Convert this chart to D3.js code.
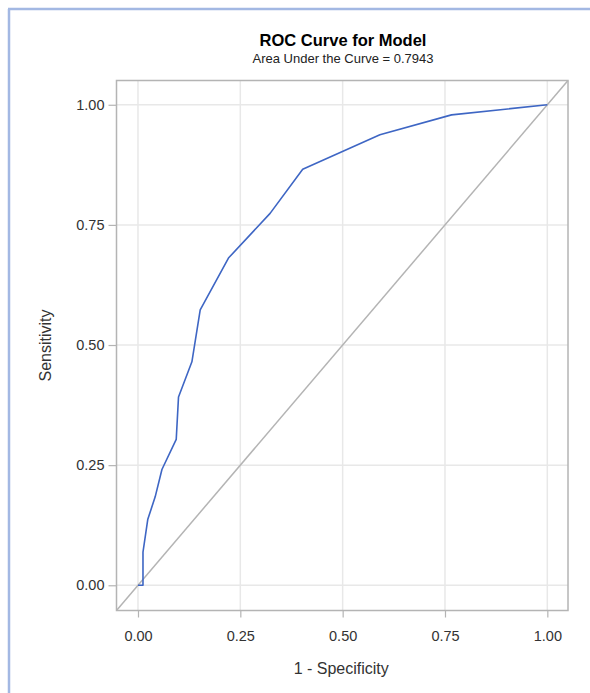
<!DOCTYPE html>
<html>
<head>
<meta charset="utf-8">
<script src="https://cdn.jsdelivr.net/npm/d3@7"></script>
<style>
  html, body { margin: 0; padding: 0; background: #ffffff; }
  svg { display: block; }
  text { font-family: "Liberation Sans", Arial, sans-serif; fill: #333333; }
</style>
</head>
<body>
<svg id="chart" width="590" height="693"></svg>
<script>
// ---- data ----
const fpr = [0, 0.0122, 0.0122, 0.024, 0.042, 0.0585, 0.0934, 0.099, 0.1317, 0.152, 0.221, 0.3227, 0.4024, 0.591, 0.766, 1.0];
const tpr = [0, 0, 0.069, 0.1375, 0.184, 0.241, 0.3035, 0.392, 0.465, 0.573, 0.681, 0.774, 0.866, 0.9375, 0.979, 1.0];
const tickValues = [0, 0.25, 0.5, 0.75, 1.0];
const titleText = "ROC Curve for Model";
const subtitleText = "Area Under the Curve = 0.7943";
const xTitle = "1 - Specificity";
const yTitle = "Sensitivity";
const domainMin = -0.0525, domainMax = 1.0505;

(function () {
const svg = d3.select("#chart");

// outer frame (page border)
svg.append("line").attr("x1", 9).attr("y1", 9).attr("x2", 9).attr("y2", 693)
  .attr("stroke", "#a3b8e3").attr("stroke-width", 2.5);
svg.append("line").attr("x1", 8).attr("y1", 9).attr("x2", 590).attr("y2", 9)
  .attr("stroke", "#a3b8e3").attr("stroke-width", 2.5);

const pL = 116.5, pR = 568, pT = 80.5, pB = 610.5;
const x = d3.scaleLinear().domain([domainMin, domainMax]).range([pL, pR]);
const y = d3.scaleLinear().domain([domainMin, domainMax]).range([pB, pT]);

// grid
const grid = svg.append("g");
tickValues.forEach(v => {
  grid.append("line").attr("x1", x(v)).attr("x2", x(v)).attr("y1", pT).attr("y2", pB)
    .attr("stroke", "#e8e8e8").attr("stroke-width", 1.5);
  grid.append("line").attr("y1", y(v)).attr("y2", y(v)).attr("x1", pL).attr("x2", pR)
    .attr("stroke", "#e8e8e8").attr("stroke-width", 1.5);
});

// diagonal reference line
svg.append("line")
  .attr("x1", x(domainMin)).attr("y1", y(domainMin))
  .attr("x2", x(domainMax)).attr("y2", y(domainMax))
  .attr("stroke", "#b4b4b4").attr("stroke-width", 1.5);

// ROC curve
const pts = fpr.map((f, i) => [f, tpr[i]]);
svg.append("path")
  .datum(pts)
  .attr("d", d3.line().x(d => x(d[0])).y(d => y(d[1])))
  .attr("fill", "none").attr("stroke", "#3e66c4").attr("stroke-width", 1.6)
  .attr("stroke-linejoin", "round");

// frame
svg.append("rect").attr("x", pL).attr("y", pT).attr("width", pR - pL).attr("height", pB - pT)
  .attr("fill", "none").attr("stroke", "#b4b4b4").attr("stroke-width", 1.5);

// axes
const fmt = d3.format(".2f");
const xAxis = svg.append("g").attr("transform", `translate(0,${pB})`)
  .call(d3.axisBottom(x).tickValues(tickValues).tickFormat(fmt).tickSize(7).tickPadding(13));
const yAxis = svg.append("g").attr("transform", `translate(${pL},0)`)
  .call(d3.axisLeft(y).tickValues(tickValues).tickFormat(fmt).tickSize(8).tickPadding(4));
[xAxis, yAxis].forEach(a => {
  a.select(".domain").remove();
  a.selectAll(".tick line").attr("stroke", "#b4b4b4").attr("stroke-width", 1.2);
  a.selectAll(".tick text").attr("fill", "#333").style("font-size", "14.5px")
    .style("font-family", "'Liberation Sans', Arial, sans-serif");
});

// titles
svg.append("text").attr("x", 343).attr("y", 46).attr("text-anchor", "middle")
  .style("font-size", "16.5px").style("font-weight", "bold").style("fill", "#000").text(titleText);
svg.append("text").attr("x", 343).attr("y", 63).attr("text-anchor", "middle")
  .style("font-size", "13px").style("fill", "#222").text(subtitleText);

svg.append("text").attr("x", (pL + pR) / 2 - 1).attr("y", 674).attr("text-anchor", "middle")
  .style("font-size", "16px").text(xTitle);
svg.append("text").attr("transform", `translate(51,${(pT + pB) / 2}) rotate(-90)`)
  .attr("text-anchor", "middle").style("font-size", "16px").text(yTitle);
})();
</script>
</body>
</html>
